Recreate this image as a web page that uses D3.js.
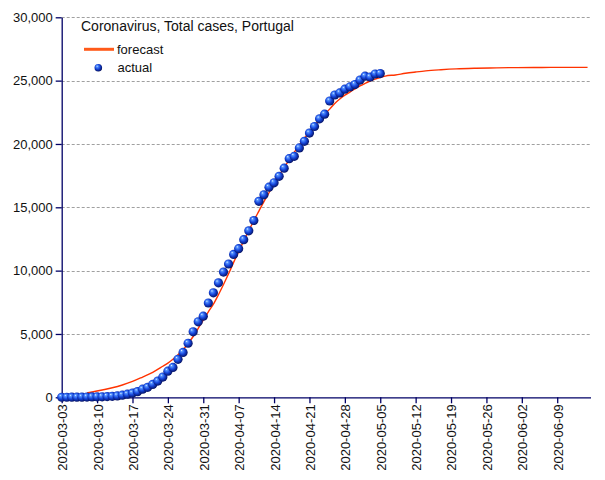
<!DOCTYPE html>
<html>
<head>
<meta charset="utf-8">
<script src="https://cdn.jsdelivr.net/npm/d3@7"></script>
<style>
  html, body { margin: 0; padding: 0; background: #ffffff; }
  svg { display: block; }
  text { font-family: "Liberation Sans", Arial, sans-serif; }
</style>
</head>
<body>
<svg id="chart" width="605" height="480"></svg>
<script>
// ---------------- data ----------------
const chartTitle = "Coronavirus, Total cases, Portugal";
const seriesNames = ["forecast", "actual"];

const actualStart = "2020-03-03";
const actualValues = [
  2, 4, 6, 9, 13, 21, 30, 39, 41, 59,
  78, 112, 169, 245, 331, 448, 642, 785, 1020, 1280,
  1600, 2060, 2362, 2995, 3544, 4268, 5170, 5962, 6408, 7443,
  8251, 9034, 9886, 10524, 11278, 11730, 12442, 13141, 13956, 15472,
  15987, 16585, 16934, 17448, 18091, 18841, 19022, 19685, 20206, 20863,
  21379, 21982, 22353, 23392, 23864, 24027, 24322, 24505, 24692, 25045,
  25351, 25282, 25524, 25560
];

const forecastDates = [
  "2020-03-08","2020-03-09","2020-03-11","2020-03-13","2020-03-15","2020-03-17","2020-03-19",
  "2020-03-21","2020-03-23","2020-03-24","2020-03-25","2020-03-26","2020-03-27","2020-03-28",
  "2020-03-29","2020-03-30","2020-03-31","2020-04-01","2020-04-02","2020-04-03","2020-04-04",
  "2020-04-05","2020-04-06","2020-04-07","2020-04-08","2020-04-09","2020-04-10","2020-04-11",
  "2020-04-12","2020-04-13","2020-04-14","2020-04-15","2020-04-16","2020-04-17","2020-04-18",
  "2020-04-19","2020-04-20","2020-04-21","2020-04-22","2020-04-23","2020-04-24","2020-04-25",
  "2020-04-26","2020-04-27","2020-04-28","2020-04-29","2020-04-30","2020-05-01","2020-05-02",
  "2020-05-03","2020-05-04","2020-05-05","2020-05-06","2020-05-08","2020-05-10","2020-05-12",
  "2020-05-14","2020-05-17","2020-05-20","2020-05-24","2020-05-28","2020-06-01","2020-06-06",
  "2020-06-11","2020-06-15"
];
const forecastValues = [
  350, 420, 580, 750, 970, 1250, 1600,
  1970, 2450, 2700, 3000, 3350, 3750, 4250,
  4800, 5450, 6100, 6750, 7350, 8100, 8900,
  9750, 10650, 11500, 12350, 13150, 13950, 14700,
  15450, 16150, 16850, 17500, 18150, 18750, 19350,
  19900, 20450, 20950, 21450, 21900, 22350, 22750,
  23200, 23550, 23850, 24100, 24350, 24580, 24780,
  24970, 25120, 25250, 25360, 25450, 25580, 25680,
  25770, 25860, 25930, 25980, 26010, 26030, 26040,
  26050, 26050
];

const yTicks = [0, 5000, 10000, 15000, 20000, 25000, 30000];
const xTickLabels = [
  "2020-03-03","2020-03-10","2020-03-17","2020-03-24","2020-03-31","2020-04-07",
  "2020-04-14","2020-04-21","2020-04-28","2020-05-05","2020-05-12","2020-05-19",
  "2020-05-26","2020-06-02","2020-06-09"
];

// ---------------- layout ----------------
const parse = d3.utcParse("%Y-%m-%d");
const svg = d3.select("#chart");
const plotL = 61.7, plotR = 590.5, plotT = 17.3, plotB = 397.3;
const axisColor = "#000066";

const x = d3.scaleUtc()
  .domain([parse("2020-03-03"), d3.utcHour.offset(parse("2020-06-15"), 14)])
  .range([plotL, plotR]);
const y = d3.scaleLinear().domain([0, 30000]).range([plotB, plotT]);

svg.append("rect").attr("width", 605).attr("height", 480).attr("fill", "#ffffff");

// defs: sphere gradient
const defs = svg.append("defs");
const grad = defs.append("radialGradient")
  .attr("id", "ball").attr("cx", "45%").attr("cy", "45%").attr("r", "58%")
  .attr("fx", "33%").attr("fy", "28%");
grad.append("stop").attr("offset", "0%").attr("stop-color", "#f0f6ff");
grad.append("stop").attr("offset", "18%").attr("stop-color", "#5896ff");
grad.append("stop").attr("offset", "55%").attr("stop-color", "#1646dc");
grad.append("stop").attr("offset", "100%").attr("stop-color", "#030c58");

// grid
svg.append("g").selectAll("line")
  .data(yTicks.filter(d => d > 0))
  .join("line")
  .attr("x1", plotL).attr("x2", plotR + 1)
  .attr("y1", d => Math.round(y(d)) + 0.5).attr("y2", d => Math.round(y(d)) + 0.5)
  .attr("stroke", "#a0a0a0").attr("stroke-width", 1)
  .attr("stroke-dasharray", "3,2");

// y axis
const yAxis = svg.append("g")
  .attr("transform", `translate(${plotL},0)`)
  .call(d3.axisLeft(y).tickValues(yTicks).tickFormat(d3.format(",")).tickSize(6).tickSizeOuter(0));
yAxis.select(".domain").attr("stroke", axisColor).attr("stroke-width", 1.3);
yAxis.selectAll(".tick line").attr("stroke", axisColor).attr("stroke-width", 1.3);
yAxis.selectAll(".tick text")
  .attr("font-family", "Liberation Sans, Arial, sans-serif")
  .attr("font-size", 13).attr("fill", "#111").attr("x", -9);

// x axis
const xAxis = svg.append("g")
  .attr("transform", `translate(0,${plotB})`)
  .call(d3.axisBottom(x).tickValues(xTickLabels.map(parse))
    .tickFormat(d3.utcFormat("%Y-%m-%d")).tickSize(6).tickSizeOuter(0));
xAxis.select(".domain").attr("stroke", axisColor).attr("stroke-width", 1.3);
xAxis.selectAll(".tick line").attr("stroke", axisColor).attr("stroke-width", 1.3);
xAxis.selectAll(".tick text")
  .attr("font-family", "Liberation Sans, Arial, sans-serif")
  .attr("font-size", 13).attr("fill", "#111")
  .attr("transform", "rotate(-90)")
  .attr("text-anchor", "end")
  .attr("x", -7).attr("y", 0).attr("dy", "0.38em");

// forecast line
const fData = forecastDates.map((d, i) => ({ date: parse(d), value: forecastValues[i] }));
svg.append("path")
  .datum(fData)
  .attr("fill", "none")
  .attr("stroke", "#ff3300")
  .attr("stroke-width", 1.4)
  .attr("d", d3.line().x(d => x(d.date)).y(d => y(d.value)).curve(d3.curveMonotoneX));

// actual dots
const start = parse(actualStart);
const aData = actualValues.map((v, i) => ({ date: d3.utcDay.offset(start, i), value: v }));
svg.append("g").selectAll("circle")
  .data(aData)
  .join("circle")
  .attr("cx", d => x(d.date))
  .attr("cy", d => y(d.value))
  .attr("r", 4.6)
  .attr("fill", "url(#ball)");

// legend
svg.append("text")
  .attr("x", 81).attr("y", 31)
  .attr("font-size", 14).attr("fill", "#111")
  .text(chartTitle);
svg.append("line")
  .attr("x1", 84).attr("x2", 114).attr("y1", 49.3).attr("y2", 49.3)
  .attr("stroke", "#ff5a1a").attr("stroke-width", 3);
svg.append("text")
  .attr("x", 117).attr("y", 53.8)
  .attr("font-size", 13).attr("fill", "#111")
  .text(seriesNames[0]);
svg.append("circle")
  .attr("cx", 98.3).attr("cy", 67.7).attr("r", 3.8)
  .attr("fill", "url(#ball)");
svg.append("text")
  .attr("x", 117.5).attr("y", 71.5)
  .attr("font-size", 13).attr("fill", "#111")
  .text(seriesNames[1]);
</script>
</body>
</html>
